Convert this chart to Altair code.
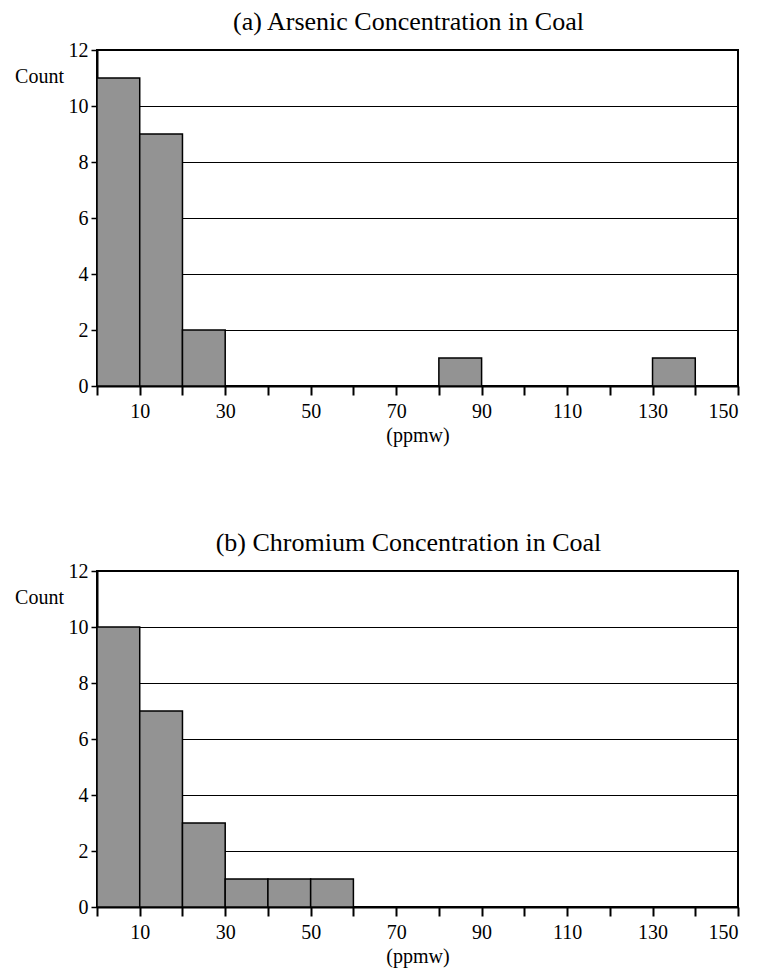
import altair as alt
import pandas as pd

# Histogram bins (ppmw)
bin_start = [0, 10, 20, 30, 40, 50, 60, 70, 80, 90, 100, 110, 120, 130, 140]
bin_end = [10, 20, 30, 40, 50, 60, 70, 80, 90, 100, 110, 120, 130, 140, 150]
arsenic_counts = [11, 9, 2, 0, 0, 0, 0, 0, 1, 0, 0, 0, 0, 1, 0]
chromium_counts = [10, 7, 3, 1, 1, 1, 0, 0, 0, 0, 0, 0, 0, 0, 0]

titles = ["(a) Arsenic Concentration in Coal", "(b) Chromium Concentration in Coal"]
x_tick_values = list(range(0, 151, 10))
y_tick_values = [0, 2, 4, 6, 8, 10, 12]

FONT = "Liberation Serif"


def panel(counts, title, title_offset):
    df = pd.DataFrame({"start": bin_start, "end": bin_end, "count": counts})
    df = df[df["count"] > 0]
    return (
        alt.Chart(df)
        .mark_rect(fill="#939393", stroke="black", strokeWidth=1.5)
        .encode(
            x=alt.X(
                "start:Q",
                scale=alt.Scale(domain=[0, 150], nice=False, zero=True),
                axis=alt.Axis(
                    title="(ppmw)",
                    values=x_tick_values,
                    labelExpr="datum.value % 20 == 10 ? datum.label : ''",
                    grid=False,
                    tickSize=9,
                    tickWidth=2,
                    domainWidth=2,
                    labelPadding=6,
                    titlePadding=4,
                ),
            ),
            x2="end:Q",
            y=alt.Y(
                "count:Q",
                scale=alt.Scale(domain=[0, 12], nice=False),
                axis=alt.Axis(
                    title="Count",
                    values=y_tick_values,
                    grid=True,
                    gridColor="black",
                    gridWidth=1.2,
                    gridOpacity=1,
                    tickSize=6,
                    tickWidth=1.5,
                    domainWidth=2,
                    labelPadding=3,
                    titleAngle=0,
                    titleAlign="center",
                    titleBaseline="middle",
                    titleX=-58,
                    titleY=26,
                ),
            ),
            y2=alt.Y2(datum=0),
        )
        .properties(
            width=641,
            height=336,
            title=alt.TitleParams(title, offset=title_offset, dx=-9),
        )
    )


chart = (
    alt.vconcat(
        panel(arsenic_counts, titles[0], 5),
        panel(chromium_counts, titles[1], 5),
        spacing=83,
    )
    .properties(background="white", padding={"top": 0, "left": 5, "right": 5, "bottom": 5})
    .configure_view(stroke="black", strokeWidth=2)
    .configure_title(font=FONT, fontSize=26, fontWeight="normal", color="black")
    .configure_axis(
        labelFont=FONT,
        titleFont=FONT,
        labelFontSize=20,
        titleFontSize=20,
        titleFontWeight="normal",
        labelColor="black",
        titleColor="black",
        domainColor="black",
        tickColor="black",
    )
)

chart.save("out.html", embed_options={"renderer": "svg", "actions": False})
